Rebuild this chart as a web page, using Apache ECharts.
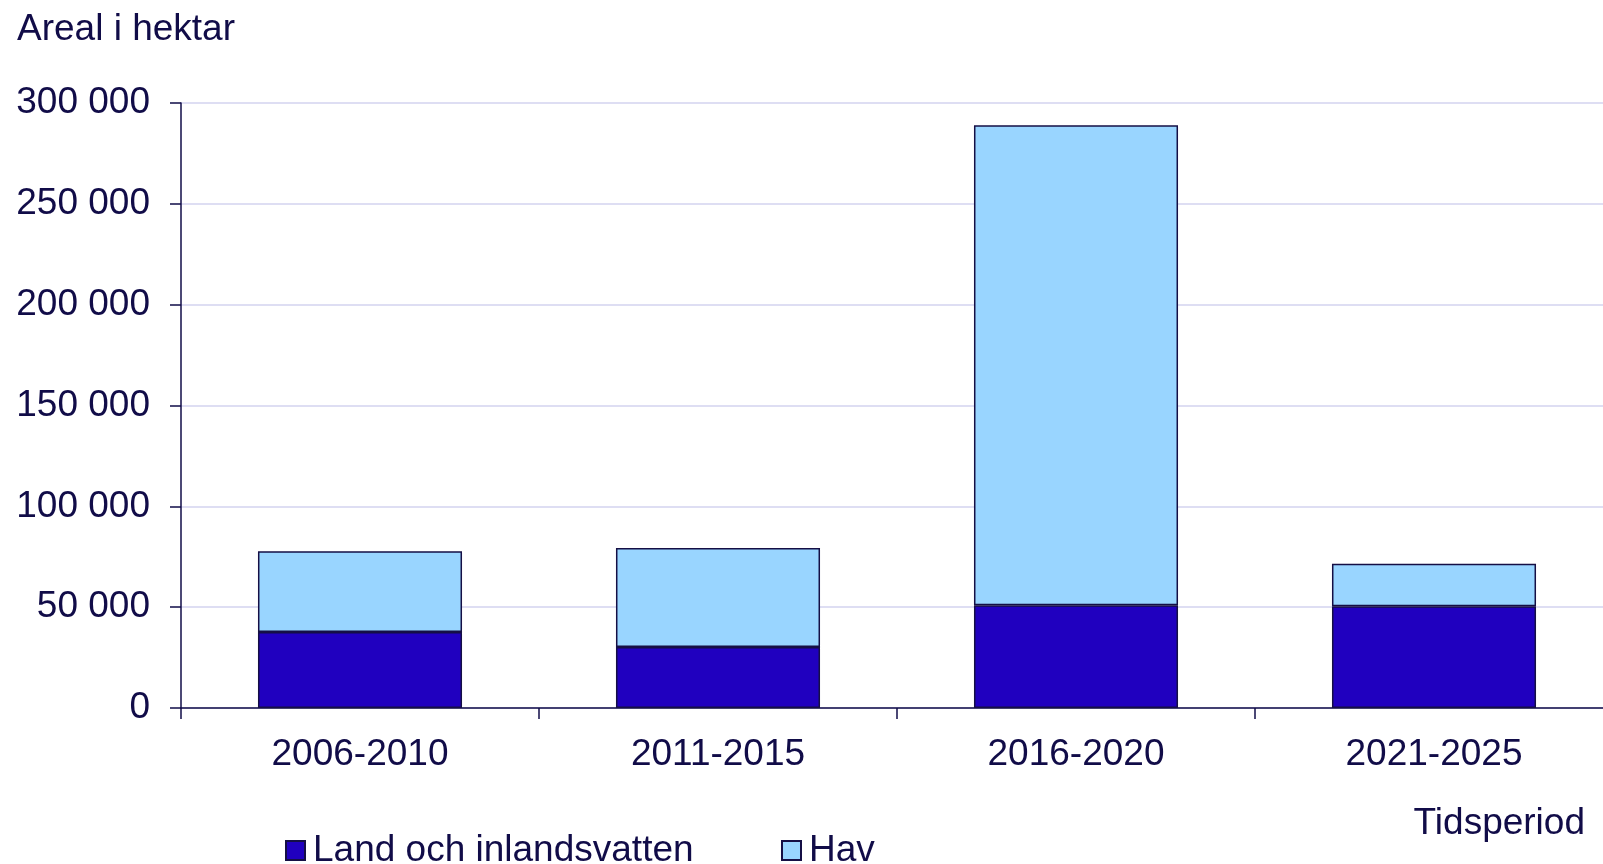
<!DOCTYPE html>
<html>
<head>
<meta charset="utf-8">
<style>
  html, body { margin: 0; padding: 0; background: #ffffff; }
  #chart { width: 1603px; height: 864px; }
</style>
<script src="https://cdn.jsdelivr.net/npm/echarts@6/dist/echarts.min.js"></script>
</head>
<body>
<div id="chart"></div>
<script>
const categories = ['2006-2010', '2011-2015', '2016-2020', '2021-2025'];
const landValues = [37700, 30200, 51000, 50400];
const havValues = [40000, 49200, 238000, 21100];
const seriesNames = ['Land och inlandsvatten', 'Hav'];
const yAxisTitle = 'Areal i hektar';
const xAxisTitle = 'Tidsperiod';

const textColor = '#110c48';
const font = 'Liberation Sans, Arial, sans-serif';
const fs = 37;

const chart = echarts.init(document.getElementById('chart'), null, { renderer: 'canvas' });
chart.setOption({
  animation: false,
  backgroundColor: '#ffffff',
  grid: { left: 181, top: 103, width: 1432, height: 605, containLabel: false, outerBoundsMode: 'none' },
  legend: [
    {
      data: [seriesNames[0]], left: 285, top: 832, itemWidth: 19, itemHeight: 19, padding: 0, icon: 'rect',
      textStyle: { color: textColor, fontSize: fs, fontFamily: font, padding: [3, 0, 0, 3] }
    },
    {
      data: [seriesNames[1]], left: 781, top: 832, itemWidth: 19, itemHeight: 19, padding: 0, icon: 'rect',
      textStyle: { color: textColor, fontSize: fs, fontFamily: font, padding: [3, 0, 0, 3] }
    }
  ],
  graphic: [
    { type: 'text', left: 17, top: 11, style: { text: yAxisTitle, fill: textColor, font: fs + 'px ' + font } },
    { type: 'text', right: 18, top: 805, style: { text: xAxisTitle, fill: textColor, font: fs + 'px ' + font } }
  ],
  xAxis: {
    type: 'category',
    data: categories,
    axisLine: { lineStyle: { color: textColor, width: 1.5 } },
    axisTick: { show: true, length: 11, lineStyle: { color: textColor, width: 1.5 } },
    axisLabel: { color: textColor, fontSize: fs, fontFamily: font, margin: 28 },
    splitLine: { show: false }
  },
  yAxis: {
    type: 'value',
    min: 0, max: 300000, interval: 50000,
    axisLine: { show: true, lineStyle: { color: textColor, width: 1.5 } },
    axisTick: { show: true, length: 11, lineStyle: { color: textColor, width: 1.5 } },
    axisLabel: {
      color: textColor, fontSize: fs, fontFamily: font, margin: 31,
      formatter: v => String(v).replace(/\B(?=(\d{3})+(?!\d))/g, ' ')
    },
    splitLine: { show: true, lineStyle: { color: '#d3d3ef', width: 1.5 } }
  },
  series: [
    {
      name: seriesNames[0], type: 'bar', stack: 'total', data: landValues, barWidth: '57%',
      itemStyle: { color: '#2000bf', borderColor: '#150f45', borderWidth: 1.5 }
    },
    {
      name: seriesNames[1], type: 'bar', stack: 'total', data: havValues, barWidth: '57%',
      itemStyle: { color: '#99d5ff', borderColor: '#150f45', borderWidth: 1.5 }
    }
  ]
});
</script>
</body>
</html>
